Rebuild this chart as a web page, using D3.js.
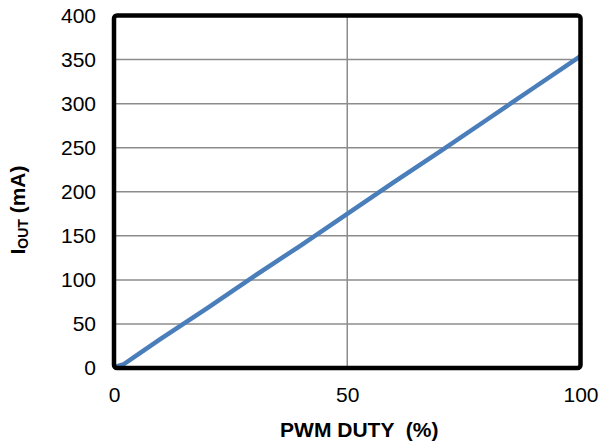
<!DOCTYPE html>
<html>
<head>
<meta charset="utf-8">
<script src="https://cdn.jsdelivr.net/npm/d3@7"></script>
<style>
  body { margin: 0; background: #fff; }
  svg text { font-family: Arial, "Liberation Sans", sans-serif; }
</style>
</head>
<body>
<div id="chart"></div>
<script>
// duty (%) vs output current (mA)
var duty = [0, 2, 5, 10, 20, 30, 40, 50, 60, 70, 80, 90, 100];
var iout = [1, 4, 15, 33, 68, 104, 139, 175, 211, 246, 282, 318, 354];
var xTicks = [0, 50, 100];
var yTicks = [0, 50, 100, 150, 200, 250, 300, 350, 400];

var W = 602, H = 441;
var margin = {top: 15.5, right: 21.5, bottom: 73, left: 114};
var width = W - margin.left - margin.right,
    height = H - margin.top - margin.bottom;

var svg = d3.select("#chart").append("svg")
    .attr("width", W)
    .attr("height", H);
var g = svg.append("g")
    .attr("transform", "translate(" + margin.left + "," + margin.top + ")");

var x = d3.scaleLinear().domain([0, 100]).range([0, width]);
var y = d3.scaleLinear().domain([0, 400]).range([height, 0]);

// gridlines
g.append("g")
  .selectAll("line.h")
  .data(yTicks)
  .enter().append("line")
    .attr("x1", 0).attr("x2", width)
    .attr("y1", function(d) { return y(d); })
    .attr("y2", function(d) { return y(d); })
    .attr("stroke", "#8c8c8c")
    .attr("stroke-width", 1.5);
g.append("g")
  .selectAll("line.v")
  .data(xTicks)
  .enter().append("line")
    .attr("y1", 0).attr("y2", height)
    .attr("x1", function(d) { return x(d); })
    .attr("x2", function(d) { return x(d); })
    .attr("stroke", "#8c8c8c")
    .attr("stroke-width", 1.5);

// axes (labels only)
var yAxis = g.append("g")
    .call(d3.axisLeft(y).tickValues(yTicks).tickSize(0).tickPadding(18));
var xAxis = g.append("g")
    .attr("transform", "translate(0," + height + ")")
    .call(d3.axisBottom(x).tickValues(xTicks).tickSize(0).tickPadding(19));
[yAxis, xAxis].forEach(function(a) {
  a.select(".domain").remove();
  a.selectAll("text")
    .attr("font-size", "21px")
    .attr("font-family", "Arial, 'Liberation Sans', sans-serif")
    .attr("fill", "#000");
});

// data line
var line = d3.line()
    .x(function(d, i) { return x(duty[i]); })
    .y(function(d, i) { return y(iout[i]); });
g.append("path")
    .datum(iout)
    .attr("d", line)
    .attr("fill", "none")
    .attr("stroke", "#4a7ebb")
    .attr("stroke-width", 4.5)
    .attr("stroke-linejoin", "round");

// frame
g.append("rect")
    .attr("x", 0).attr("y", 0)
    .attr("width", width).attr("height", height)
    .attr("rx", 3)
    .attr("fill", "none")
    .attr("stroke", "#000")
    .attr("stroke-width", 4.5);

// titles
svg.append("text")
    .attr("x", margin.left + width / 2 + 12)
    .attr("y", 437)
    .attr("text-anchor", "middle")
    .attr("font-size", "21px")
    .attr("font-weight", "bold")
    .attr("xml:space", "preserve")
    .text("PWM DUTY  (%)");

var yt = svg.append("text")
    .attr("transform", "translate(25," + 210 + ") rotate(-90)")
    .attr("text-anchor", "middle")
    .attr("font-size", "21px")
    .attr("font-weight", "bold");
yt.append("tspan").text("I");
yt.append("tspan").attr("font-size", "14px").attr("dy", 3).text("OUT");
yt.append("tspan").attr("dy", -3).text(" (mA)");
</script>
</body>
</html>
